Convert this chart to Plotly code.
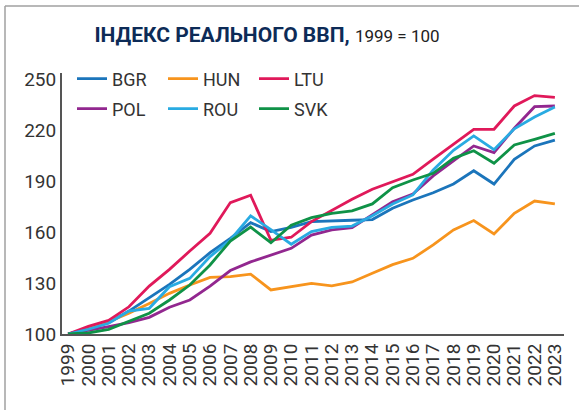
import plotly.graph_objects as go

years = list(range(1999, 2024))
year_labels = [str(y) for y in years]

bgr = [100, 103.3, 106.7, 113.5, 121.4, 129.2, 138.0, 147.8, 156.3, 165.5, 160.2, 162.7, 166.1, 166.7, 166.9,
       167.3, 174.0, 178.8, 183.1, 188.2, 196.0, 188.2, 202.7, 210.6, 214.0]
hun = [100, 103.0, 107.3, 112.2, 118.0, 123.9, 128.8, 133.3, 133.7, 135.2, 125.9, 127.8, 129.8, 128.3, 130.6,
       135.7, 140.8, 144.5, 152.4, 161.2, 166.7, 158.8, 171.0, 178.2, 176.5]
ltu = [100, 104.5, 108.0, 116.0, 128.2, 138.0, 148.8, 159.2, 177.3, 181.6, 155.1, 156.9, 166.1, 172.9, 179.2,
       185.1, 189.4, 193.9, 202.9, 211.6, 220.4, 220.4, 234.1, 240.2, 239.2]
pol = [100, 102.0, 104.3, 106.7, 109.8, 115.7, 120.0, 128.2, 137.3, 142.4, 146.2, 150.4, 158.2, 161.2, 162.5,
       170.0, 177.8, 182.3, 193.0, 201.8, 210.6, 206.7, 221.0, 233.7, 234.1]
rou = [100, 102.8, 106.3, 113.5, 115.1, 127.8, 132.7, 145.5, 155.3, 169.5, 161.4, 152.8, 160.2, 162.7, 163.5,
       169.5, 176.5, 181.8, 196.5, 208.0, 216.5, 208.4, 220.7, 227.6, 233.5]
svk = [100, 100.6, 102.7, 107.3, 112.2, 120.0, 128.8, 140.6, 154.7, 162.9, 153.7, 164.0, 168.4, 171.0, 172.4,
       176.5, 186.0, 190.6, 194.5, 203.3, 207.8, 200.4, 211.2, 214.5, 218.0]

series_names = ["BGR", "HUN", "LTU", "POL", "ROU", "SVK"]
series_values = [bgr, hun, ltu, pol, rou, svk]
series_colors = ["#1b75bb", "#f7941d", "#e0195a", "#92278f", "#29abe2", "#0f9247"]
legend_rows = ["legend", "legend", "legend", "legend2", "legend2", "legend2"]

y_ticks = [100, 130, 160, 190, 220, 250]

fig = go.Figure()
for name, vals, col, lg in zip(series_names, series_values, series_colors, legend_rows):
    fig.add_trace(go.Scatter(x=years, y=vals, name=name, mode="lines", legend=lg,
                             line=dict(color=col, width=2.8)))

W, H = 579, 410
ml, mr, mt, mb = 62, 15, 73, 76
pw, ph = W - ml - mr, H - mt - mb

def px_x(p):
    return (p - ml) / pw

def px_y(p):
    return (H - mb - p) / ph

legend_common = dict(
    orientation="h", xanchor="left", yanchor="middle",
    font=dict(family="Roboto", size=18, color="#333333"),
    entrywidth=46, entrywidthmode="pixels",
    bgcolor="rgba(0,0,0,0)", traceorder="normal",
)

tick_font = dict(family="Roboto", size=19, color="#333333")

fig.update_layout(
    width=W, height=H,
    margin=dict(l=ml, r=mr, t=mt, b=mb, pad=0, autoexpand=False),
    paper_bgcolor="white", plot_bgcolor="white",
    font=dict(family="Roboto", size=18, color="#333333"),
    title=dict(
        text="<b>ІНДЕКС РЕАЛЬНОГО ВВП,</b> <span style='font-size:17px; color:#222222'>1999 = 100</span>",
        font=dict(family="Roboto", size=21, color="#0d2b57"),
        xref="container", yref="container", x=267 / W, y=1 - 34.5 / H,
        xanchor="center", yanchor="middle",
    ),
    showlegend=True,
    legend=dict(x=px_x(72), y=px_y(79), **legend_common),
    legend2=dict(x=px_x(72), y=px_y(109), **legend_common),
    xaxis=dict(
        range=[1998.7, 2023.45], tickmode="array", tickvals=years, ticktext=year_labels,
        tickangle=-90, showgrid=False, zeroline=False, automargin=False,
        showline=True, linecolor="#555555", linewidth=2, ticks="",
        tickfont=tick_font,
    ),
    yaxis=dict(
        range=[100, 253.5], tickmode="array", tickvals=y_ticks,
        showgrid=False, zeroline=False, automargin=False,
        showline=True, linecolor="#555555", linewidth=2, ticks="",
        tickfont=tick_font,
    ),
    shapes=[
        dict(type="line", xref="paper", yref="paper", x0=px_x(5), x1=px_x(5), y0=px_y(6), y1=px_y(410),
             line=dict(color="#a0a0a0", width=1.5)),
        dict(type="line", xref="paper", yref="paper", x0=px_x(5), x1=px_x(579), y0=px_y(6), y1=px_y(6),
             line=dict(color="#a0a0a0", width=1.5)),
    ],
)

fig.write_html(
    "out.html",
    config={"displayModeBar": False},
    post_script="document.body.style.margin='0';document.body.style.padding='0';",
)
